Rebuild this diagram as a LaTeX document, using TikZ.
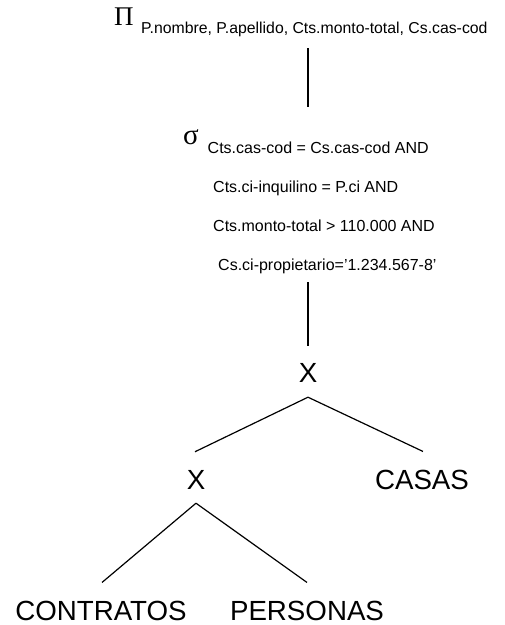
\documentclass[tikz,border=0pt]{standalone}
\usepackage{fontspec}
\setmainfont{Liberation Sans}
\newfontfamily\greekfont{Liberation Serif}
\usetikzlibrary{calc}
\begin{document}
\begin{tikzpicture}[x=1pt,y=-1pt,
  lbl/.style={inner sep=0pt, anchor=base west, font=\fontsize{16}{16}\selectfont},
  big/.style={inner sep=0pt, anchor=base, font=\fontsize{27.7}{28}\selectfont},
  greek/.style={inner sep=0pt, anchor=base west},
  edge/.style={line width=1.2pt, line cap=butt}]
\useasboundingbox (0,0) rectangle (505,625);
% projection
\node[greek, font=\fontsize{27}{27}\greekfont] (pi) at (114,25) {Π};
\node[lbl, font=\fontsize{15.8}{16}\selectfont] (proj) at (141,33) {P.nombre, P.apellido, Cts.monto-total, Cs.cas-cod};
% selection
\node[greek, font=\fontsize{29}{29}\greekfont] (sigma) at (183,144) {σ};
\node[lbl] (c1) at (207.5,153) {Cts.cas-cod = Cs.cas-cod AND};
\node[lbl] (c2) at (213,192) {Cts.ci-inquilino = P.ci AND};
\node[lbl] (c3) at (213,231) {Cts.monto-total {>} 110.000 AND};
\node[lbl] (c4) at (218,270) {Cs.ci-propietario=’1.234.567-8’};
% products and relations
\node[big] (x1) at (308,382) {X};
\node[big] (x2) at (196,489) {X};
\node[big] (casas) at (422,489) {CASAS};
\node[big] (contratos) at (101,620) {CONTRATOS};
\node[big] (personas) at (307,620) {PERSONAS};
% connectors
\coordinate (p1) at (308,48);
\coordinate (p2) at (308,107);
\coordinate (s1) at (308,282);
\draw[edge] (p1) -- (p2);
\draw[edge] (s1) -- ($(x1.north)+(0,-17)$);
\draw[edge] ($(x1.south)+(0,15)$) -- ($(x2.north)+(-1,-18)$);
\draw[edge] ($(x1.south)+(0,15)$) -- ($(casas.north)+(1,-18)$);
\draw[edge] ($(x2.south)+(0,14)$) -- ($(contratos.north)+(1,-18)$);
\draw[edge] ($(x2.south)+(0,14)$) -- ($(personas.north)+(0,-18)$);
\end{tikzpicture}
\end{document}
